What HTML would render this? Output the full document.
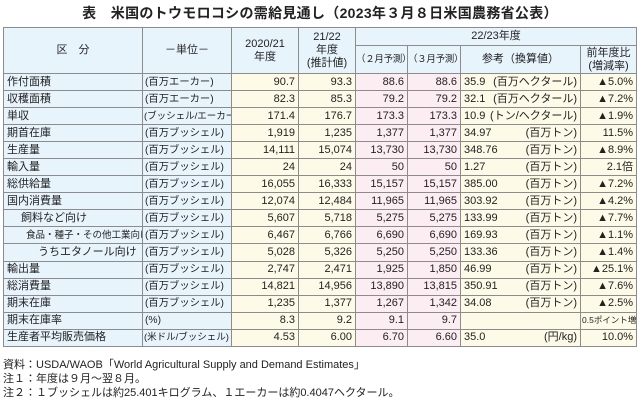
<!DOCTYPE html>
<html><head><meta charset="utf-8">
<style>
html,body{margin:0;padding:0;background:#fff;}
body{width:640px;height:401px;position:relative;overflow:hidden;font-family:"Liberation Sans","Noto Sans CJK JP",sans-serif;color:#222;}
.title{position:absolute;left:0;width:640px;top:3px;text-align:center;font-size:14px;font-weight:bold;letter-spacing:0.3px;}
table{position:absolute;left:3px;top:27px;width:633px;border-collapse:collapse;table-layout:fixed;font-size:11px;}
td{border:1px solid #8c8c8c;padding:0 3px;white-space:nowrap;overflow:hidden;line-height:13px;}
tr.d td{height:16.05px;}
td.u{font-size:10.3px;padding:0 2px;}
.b{background:#e8f4fc;}
.c{background:#fdfbe7;}
.p{background:#fcedf3;}
.r{text-align:right;}
.h{text-align:center;background:#e8f4fc;}
.ref{display:flex;justify-content:space-between;}
.notes{position:absolute;left:3px;top:358px;font-size:11px;line-height:14px;}
</style></head><body>
<div class="title">表　米国のトウモロコシの需給見通し（2023年３月８日米国農務省公表）</div>
<table>
<colgroup><col style="width:139px"><col style="width:89px"><col style="width:67px"><col style="width:57px"><col style="width:52px"><col style="width:53px"><col style="width:120px"><col style="width:56px"></colgroup>
<tr><td class="h" rowspan="2">区　分</td><td class="h" rowspan="2">－単位－</td><td class="h" rowspan="2">2020/21<br>年度</td><td class="h" rowspan="2" style="padding:0">21/22<br>年度<br>(推計値)</td><td class="h" colspan="4" style="height:17px">22/23年度</td></tr>
<tr><td class="h" style="padding:0;height:27px;font-size:9.5px;letter-spacing:-0.3px">（２月予測）</td><td class="h" style="padding:0;font-size:9.5px;letter-spacing:-0.3px">（３月予測）</td><td class="h">参考（換算値）</td><td class="h" style="padding:0">前年度比<br>(増減率)</td></tr>
<tr class="d"><td class="b">作付面積</td><td class="b u">(百万エーカー)</td><td class="c r">90.7</td><td class="c r">93.3</td><td class="p r">88.6</td><td class="p r">88.6</td><td class="c"><div class="ref"><span>35.9</span><span>(百万ヘクタール)</span></div></td><td class="c r">▲5.0%</td></tr>
<tr class="d"><td class="b">収穫面積</td><td class="b u">(百万エーカー)</td><td class="c r">82.3</td><td class="c r">85.3</td><td class="p r">79.2</td><td class="p r">79.2</td><td class="c"><div class="ref"><span>32.1</span><span>(百万ヘクタール)</span></div></td><td class="c r">▲7.2%</td></tr>
<tr class="d"><td class="b">単収</td><td class="b" style="font-size:9.5px;padding:0 1px">(ブッシェル/エーカー)</td><td class="c r">171.4</td><td class="c r">176.7</td><td class="p r">173.3</td><td class="p r">173.3</td><td class="c"><div class="ref"><span>10.9</span><span>(トン/ヘクタール)</span></div></td><td class="c r">▲1.9%</td></tr>
<tr class="d"><td class="b">期首在庫</td><td class="b u">(百万ブッシェル)</td><td class="c r">1,919</td><td class="c r">1,235</td><td class="p r">1,377</td><td class="p r">1,377</td><td class="c"><div class="ref"><span>34.97</span><span>(百万トン)</span></div></td><td class="c r">11.5%</td></tr>
<tr class="d"><td class="b">生産量</td><td class="b u">(百万ブッシェル)</td><td class="c r">14,111</td><td class="c r">15,074</td><td class="p r">13,730</td><td class="p r">13,730</td><td class="c"><div class="ref"><span>348.76</span><span>(百万トン)</span></div></td><td class="c r">▲8.9%</td></tr>
<tr class="d"><td class="b">輸入量</td><td class="b u">(百万ブッシェル)</td><td class="c r">24</td><td class="c r">24</td><td class="p r">50</td><td class="p r">50</td><td class="c"><div class="ref"><span>1.27</span><span>(百万トン)</span></div></td><td class="c r">2.1倍</td></tr>
<tr class="d"><td class="b">総供給量</td><td class="b u">(百万ブッシェル)</td><td class="c r">16,055</td><td class="c r">16,333</td><td class="p r">15,157</td><td class="p r">15,157</td><td class="c"><div class="ref"><span>385.00</span><span>(百万トン)</span></div></td><td class="c r">▲7.2%</td></tr>
<tr class="d"><td class="b">国内消費量</td><td class="b u">(百万ブッシェル)</td><td class="c r">12,074</td><td class="c r">12,484</td><td class="p r">11,965</td><td class="p r">11,965</td><td class="c"><div class="ref"><span>303.92</span><span>(百万トン)</span></div></td><td class="c r">▲4.2%</td></tr>
<tr class="d"><td class="b" style="padding-left:17px">飼料など向け</td><td class="b u">(百万ブッシェル)</td><td class="c r">5,607</td><td class="c r">5,718</td><td class="p r">5,275</td><td class="p r">5,275</td><td class="c"><div class="ref"><span>133.99</span><span>(百万トン)</span></div></td><td class="c r">▲7.7%</td></tr>
<tr class="d"><td class="b" style="padding-left:22px;font-size:9.5px">食品・種子・その他工業向け</td><td class="b u">(百万ブッシェル)</td><td class="c r">6,467</td><td class="c r">6,766</td><td class="p r">6,690</td><td class="p r">6,690</td><td class="c"><div class="ref"><span>169.93</span><span>(百万トン)</span></div></td><td class="c r">▲1.1%</td></tr>
<tr class="d"><td class="b" style="padding-left:34px">うちエタノール向け</td><td class="b u">(百万ブッシェル)</td><td class="c r">5,028</td><td class="c r">5,326</td><td class="p r">5,250</td><td class="p r">5,250</td><td class="c"><div class="ref"><span>133.36</span><span>(百万トン)</span></div></td><td class="c r">▲1.4%</td></tr>
<tr class="d"><td class="b">輸出量</td><td class="b u">(百万ブッシェル)</td><td class="c r">2,747</td><td class="c r">2,471</td><td class="p r">1,925</td><td class="p r">1,850</td><td class="c"><div class="ref"><span>46.99</span><span>(百万トン)</span></div></td><td class="c r">▲25.1%</td></tr>
<tr class="d"><td class="b">総消費量</td><td class="b u">(百万ブッシェル)</td><td class="c r">14,821</td><td class="c r">14,956</td><td class="p r">13,890</td><td class="p r">13,815</td><td class="c"><div class="ref"><span>350.91</span><span>(百万トン)</span></div></td><td class="c r">▲7.6%</td></tr>
<tr class="d"><td class="b">期末在庫</td><td class="b u">(百万ブッシェル)</td><td class="c r">1,235</td><td class="c r">1,377</td><td class="p r">1,267</td><td class="p r">1,342</td><td class="c"><div class="ref"><span>34.08</span><span>(百万トン)</span></div></td><td class="c r">▲2.5%</td></tr>
<tr class="d"><td class="b">期末在庫率</td><td class="b u">(%)</td><td class="c r">8.3</td><td class="c r">9.2</td><td class="p r">9.1</td><td class="p r">9.7</td><td class="c"></td><td class="c r" style="font-size:8.5px;padding:0 1px">0.5ポイント増</td></tr>
<tr class="d"><td class="b">生産者平均販売価格</td><td class="b" style="font-size:9.5px;padding:0 1px">(米ドル/ブッシェル)</td><td class="c r">4.53</td><td class="c r">6.00</td><td class="p r">6.70</td><td class="p r">6.60</td><td class="c"><div class="ref"><span>35.0</span><span>(円/kg)</span></div></td><td class="c r">10.0%</td></tr>
</table>
<div class="notes">資料：USDA/WAOB「World Agricultural Supply and Demand Estimates」<br>注１：年度は９月～翌８月。<br>注２：１ブッシェルは約25.401キログラム、１エーカーは約0.4047ヘクタール。</div>
</body></html>
